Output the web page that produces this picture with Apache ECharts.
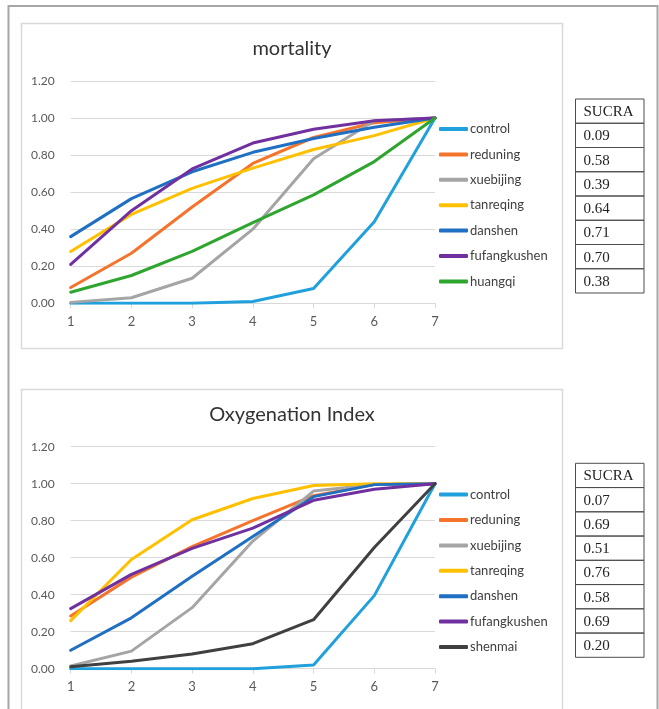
<!DOCTYPE html>
<html>
<head>
<meta charset="utf-8">
<script src="https://cdn.jsdelivr.net/npm/echarts@6/dist/echarts.min.js"></script>
<style>
html,body{margin:0;padding:0;background:#fff;}
#c{width:659px;height:709px;}
</style>
</head>
<body>
<div id="c"></div>
<script>
// ---------- data ----------
const ranks = ['1', '2', '3', '4', '5', '6', '7'];

const titleTop = 'mortality';
const titleBottom = 'Oxygenation Index';

// mortality (cumulative ranking probabilities)
const mortNames = ['control', 'reduning', 'xuebijing', 'tanreqing', 'danshen', 'fufangkushen', 'huangqi'];
const mort_control      = [0.00, 0.00, 0.00, 0.01, 0.08, 0.44, 1.00];
const mort_reduning     = [0.085, 0.27, 0.52, 0.755, 0.895, 0.975, 1.00];
const mort_xuebijing    = [0.005, 0.03, 0.135, 0.40, 0.78, 0.985, 1.00];
const mort_tanreqing    = [0.28, 0.48, 0.62, 0.73, 0.83, 0.905, 1.00];
const mort_danshen      = [0.36, 0.565, 0.71, 0.815, 0.89, 0.95, 1.00];
const mort_fufangkushen = [0.21, 0.50, 0.725, 0.865, 0.94, 0.985, 1.00];
const mort_huangqi      = [0.06, 0.15, 0.28, 0.435, 0.585, 0.765, 1.00];
const mortSucra = ['0.09', '0.58', '0.39', '0.64', '0.71', '0.70', '0.38'];

// oxygenation index
const oxyNames = ['control', 'reduning', 'xuebijing', 'tanreqing', 'danshen', 'fufangkushen', 'shenmai'];
const oxy_control      = [0.00, 0.00, 0.00, 0.00, 0.02, 0.395, 1.00];
const oxy_reduning     = [0.285, 0.495, 0.66, 0.80, 0.935, 0.995, 1.00];
const oxy_xuebijing    = [0.015, 0.095, 0.33, 0.69, 0.96, 0.995, 1.00];
const oxy_tanreqing    = [0.26, 0.59, 0.805, 0.92, 0.99, 1.00, 1.00];
const oxy_danshen      = [0.10, 0.275, 0.50, 0.715, 0.93, 0.995, 1.00];
const oxy_fufangkushen = [0.325, 0.51, 0.65, 0.76, 0.91, 0.97, 1.00];
const oxy_shenmai      = [0.01, 0.04, 0.08, 0.135, 0.265, 0.655, 1.00];
const oxySucra = ['0.07', '0.69', '0.51', '0.76', '0.58', '0.69', '0.20'];

const sucraHeader = 'SUCRA';

// ---------- styles ----------
const colors = {
  control: '#20a0dc',
  reduning: '#f4742b',
  xuebijing: '#a5a5a5',
  tanreqing: '#ffc000',
  danshen: '#1f6fc3',
  fufangkushen: '#7030a0',
  huangqi: '#2ea52e',
  shenmai: '#404040'
};
const FONT = 'Lato, "Open Sans", sans-serif';
const SERIF = '"Liberation Serif", "DejaVu Serif", serif';

const mortData = [mort_control, mort_reduning, mort_xuebijing, mort_tanreqing, mort_danshen, mort_fufangkushen, mort_huangqi];
const oxyData = [oxy_control, oxy_reduning, oxy_xuebijing, oxy_tanreqing, oxy_danshen, oxy_fufangkushen, oxy_shenmai];

function makeSeries(names, data, idx) {
  return names.map((n, i) => ({
    name: n,
    type: 'line',
    xAxisIndex: idx,
    yAxisIndex: idx,
    data: data[i],
    showSymbol: false,
    symbol: 'none',
    smooth: false,
    lineStyle: { width: 3, color: colors[n], cap: 'round', join: 'round' },
    itemStyle: { color: colors[n] },
    z: 2 + i,
    emphasis: { disabled: true },
    animation: false
  }));
}

function makeTable(values, top) {
  const left = 575.5, width = 68.5, rowH = 24.25;
  const rows = [sucraHeader].concat(values);
  const els = [];
  rows.forEach((t, i) => {
    els.push({
      type: 'rect',
      shape: { x: left, y: top + i * rowH, width: width, height: rowH },
      style: { fill: 'none', stroke: '#4d4d4d', lineWidth: 1 },
      silent: true
    });
    els.push({
      type: 'text',
      x: left + 8,
      y: top + i * rowH + rowH / 2 + 1,
      style: {
        text: t,
        font: '15px ' + SERIF,
        fill: '#222',
        textAlign: 'left',
        textVerticalAlign: 'middle'
      },
      silent: true
    });
  });
  return els;
}

function axisPair(idx) {
  return {
    x: {
      type: 'category',
      gridIndex: idx,
      data: ranks,
      boundaryGap: false,
      axisLine: { show: true, lineStyle: { color: '#d9d9d9', width: 1 } },
      axisTick: { show: true, alignWithLabel: true, length: 5, lineStyle: { color: '#d9d9d9' } },
      axisLabel: { color: '#595959', fontSize: 13, fontFamily: FONT, margin: 12 },
      splitLine: { show: false }
    },
    y: {
      type: 'value',
      gridIndex: idx,
      min: 0,
      max: 1.2,
      interval: 0.2,
      axisLine: { show: false },
      axisTick: { show: false },
      axisLabel: {
        color: '#595959',
        fontSize: 12,
        fontFamily: FONT,
        margin: 16,
        formatter: v => v.toFixed(2)
      },
      splitLine: { show: true, lineStyle: { color: '#d9d9d9', width: 1 } }
    }
  };
}

const a0 = axisPair(0), a1 = axisPair(1);

function makeLegend(names, top) {
  return {
    orient: 'vertical',
    left: 439,
    top: top,
    itemWidth: 29,
    itemHeight: 4,
    itemGap: 11.4,
    icon: 'roundRect',
    padding: 0,
    selectedMode: false,
    data: names.map(n => ({ name: n, itemStyle: { color: colors[n] } })),
    textStyle: { color: '#404040', fontSize: 13, fontFamily: FONT, lineHeight: 14, padding: [0, 0, 0, -3] }
  };
}

const chart = echarts.init(document.getElementById('c'), null, { renderer: 'canvas' });

const option = {
  backgroundColor: '#ffffff',
  animation: false,
  grid: [
    { left: 70.7, right: 224, top: 81, bottom: 405.7, containLabel: false },
    { left: 70.7, right: 224, top: 446.7, bottom: 40.3, containLabel: false }
  ],
  xAxis: [a0.x, a1.x],
  yAxis: [a0.y, a1.y],
  legend: [makeLegend(mortNames, 122), makeLegend(oxyNames, 487.6)],
  series: makeSeries(mortNames, mortData, 0).concat(makeSeries(oxyNames, oxyData, 1)),
  graphic: [
    {
      type: 'rect',
      shape: { x: 8.5, y: 6, width: 649, height: 740 },
      style: { fill: 'none', stroke: '#a6a6a6', lineWidth: 2 },
      silent: true, z: -1
    },
    {
      type: 'rect',
      shape: { x: 21.5, y: 23.5, width: 541, height: 325 },
      style: { fill: 'none', stroke: '#d9d9d9', lineWidth: 1.5 },
      silent: true, z: -1
    },
    {
      type: 'rect',
      shape: { x: 21.5, y: 389.5, width: 541, height: 360 },
      style: { fill: 'none', stroke: '#d9d9d9', lineWidth: 1.5 },
      silent: true, z: -1
    },
    {
      type: 'text',
      x: 292, y: 48.5,
      style: { text: titleTop, font: '20px ' + FONT, fill: '#333', textAlign: 'center', textVerticalAlign: 'middle' },
      silent: true
    },
    {
      type: 'text',
      x: 292, y: 414.5,
      style: { text: titleBottom, font: '20px ' + FONT, fill: '#333', textAlign: 'center', textVerticalAlign: 'middle' },
      silent: true
    }
  ].concat(makeTable(mortSucra, 99)).concat(makeTable(oxySucra, 463.3))
};

chart.setOption(option);
</script>
</body>
</html>
